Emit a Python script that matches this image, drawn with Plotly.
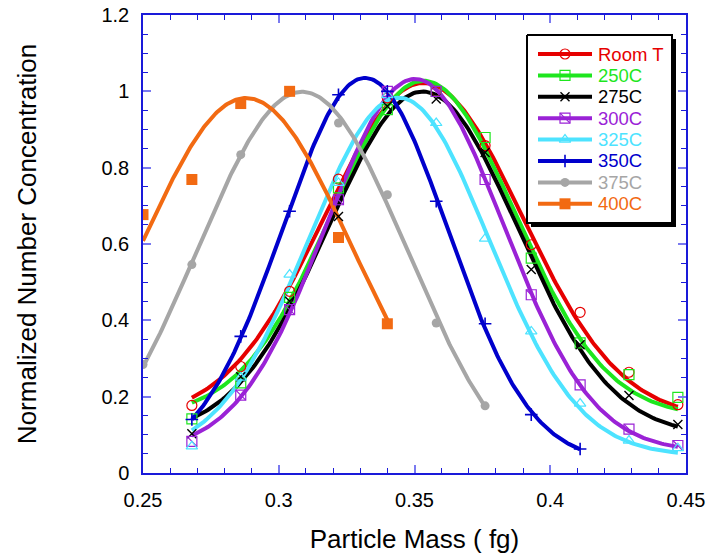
import numpy as np
import plotly.graph_objects as go

# Particle mass grid (fg)
mass = [0.250, 0.268, 0.286, 0.304, 0.322, 0.340, 0.358, 0.376, 0.393, 0.411, 0.429, 0.447]

series_names = ["Room T", "250C", "275C", "300C", "325C", "350C", "375C", "400C"]
series_colors = ["#e60000", "#1ee61e", "#000000", "#9a22d6", "#4de3ff", "#0000cc", "#a6a6a6", "#f26a12"]

# Normalized number concentration for each temperature
room_t = [0.177, 0.279, 0.476, 0.770, 0.983, 1.000, 0.858, 0.598, 0.421, 0.264, 0.179]
c250 = [0.142, 0.236, 0.460, 0.747, 0.952, 1.000, 0.879, 0.563, 0.341, 0.258, 0.198]
c275 = [0.103, 0.252, 0.450, 0.672, 0.961, 0.980, 0.840, 0.533, 0.336, 0.203, 0.127]
c300 = [0.083, 0.204, 0.428, 0.716, 1.000, 1.000, 0.769, 0.467, 0.231, 0.115, 0.072]
c325 = [0.070, 0.250, 0.520, 0.760, 0.990, 0.917, 0.614, 0.371, 0.182, 0.085, 0.065]
c350 = [0.140, 0.358, 0.686, 0.991, 1.000, 0.712, 0.391, 0.153, 0.063]
c375 = [0.284, 0.546, 0.834, 1.000, 0.917, 0.729, 0.393, 0.176]
c400 = [0.677, 0.769, 0.968, 1.000, 0.617, 0.391]

# first index into the mass grid for each series
series_start = [1, 1, 1, 1, 1, 1, 0, 0]
series_values = [room_t, c250, c275, c300, c325, c350, c375, c400]

x_ticks = [0.25, 0.3, 0.35, 0.4, 0.45]
x_tick_text = ["0.25", "0.3", "0.35", "0.4", "0.45"]
y_ticks = [0, 0.2, 0.4, 0.6, 0.8, 1.0, 1.2]
y_tick_text = ["0", "0.2", "0.4", "0.6", "0.8", "1", "1.2"]

FONT = "Liberation Sans, Arial, Helvetica, sans-serif"
AXIS_BLUE = "#1a1ad9"

# figure geometry (px)
W, H = 710, 560
ML, MR, MT, MB = 143, 24, 15, 87
PW, PH = W - ML - MR, H - MT - MB


def fx(px):
    return (px - ML) / PW


def fy(py):
    return (H - MB - py) / PH


def gaussian_fit(x, y):
    """Least-squares Gaussian + offset fit (grid over centre/width, linear in amplitude/offset)."""
    x = np.asarray(x, float)
    y = np.asarray(y, float)

    def solve(cs, ss):
        best = (np.inf, None)
        for c in cs:
            for s in ss:
                g = np.exp(-0.5 * ((x - c) / s) ** 2)
                A = np.column_stack([g, np.ones_like(g)])
                coef, *_ = np.linalg.lstsq(A, y, rcond=None)
                sse = float(((A @ coef - y) ** 2).sum())
                if sse < best[0]:
                    best = (sse, (coef[0], c, s, coef[1]))
        return best[1]

    a, c, s, d = solve(np.linspace(x.min(), x.max(), 80), np.linspace(0.01, 0.12, 80))
    a, c, s, d = solve(np.linspace(c - 0.004, c + 0.004, 41), np.linspace(max(s - 0.003, 0.005), s + 0.003, 41))
    return lambda t: a * np.exp(-0.5 * ((t - c) / s) ** 2) + d


marker_styles = [
    dict(symbol="circle-open", size=10, line=dict(width=1.2)),
    dict(symbol="square-open", size=10, line=dict(width=1.2)),
    dict(symbol="x-thin-open", size=9, line=dict(width=1.4)),
    dict(symbol="square-open", size=10, line=dict(width=1.2)),
    dict(symbol="triangle-up-open", size=10, line=dict(width=1.2)),
    dict(symbol="cross-thin-open", size=9, line=dict(width=1.6)),
    dict(symbol="circle", size=9, line=dict(width=0)),
    dict(symbol="square", size=11, line=dict(width=0)),
]


def styled_marker(ms, color):
    m = dict(ms)
    m["color"] = color
    m["line"] = dict(m["line"], color=color)
    return m


fig = go.Figure()

# fitted curves
for name, color, start, vals in zip(series_names, series_colors, series_start, series_values):
    xs = mass[start:start + len(vals)]
    f = gaussian_fit(xs, vals)
    xf = np.linspace(xs[0], xs[-1], 240)
    fig.add_trace(go.Scatter(x=xf, y=f(xf), mode="lines", line=dict(color=color, width=4),
                             showlegend=False, hoverinfo="skip", name=name))

# data markers
for name, color, start, vals, ms in zip(series_names, series_colors, series_start, series_values, marker_styles):
    xs = mass[start:start + len(vals)]
    fig.add_trace(go.Scatter(x=xs, y=vals, mode="markers", marker=styled_marker(ms, color),
                             showlegend=False, name=name))
    if name == "300C":
        fig.add_trace(go.Scatter(x=xs, y=vals, mode="markers", showlegend=False, hoverinfo="skip",
                                 marker=dict(symbol="line-nw-open", size=10, color=color,
                                             line=dict(width=1.2, color=color))))

# legend panel, drawn on an overlay axis pair spanning the plot area (0..1 both ways)
box_l, box_r, box_t, box_b = 527, 672, 35, 223
shadow = 4
row0, row_gap = 54, 21.4
line_l, line_r, text_x = 538, 592, 596


def rect_xy(l, r, t, b):
    return [fx(l), fx(r), fx(r), fx(l), fx(l)], [fy(t), fy(t), fy(b), fy(b), fy(t)]


sx, sy = rect_xy(box_l + shadow, box_r + shadow, box_t + shadow, box_b + shadow)
fig.add_trace(go.Scatter(x=sx, y=sy, xaxis="x2", yaxis="y2", mode="lines", fill="toself",
                         fillcolor="#000000", line=dict(color="#000000", width=0),
                         showlegend=False, hoverinfo="skip"))
bx, by = rect_xy(box_l, box_r, box_t, box_b)
fig.add_trace(go.Scatter(x=bx, y=by, xaxis="x2", yaxis="y2", mode="lines", fill="toself",
                         fillcolor="#ffffff", line=dict(color="#000000", width=2),
                         showlegend=False, hoverinfo="skip"))

annotations = []
for i, (name, color, ms) in enumerate(zip(series_names, series_colors, marker_styles)):
    ry = fy(row0 + i * row_gap)
    fig.add_trace(go.Scatter(x=[fx(line_l), fx(line_r)], y=[ry, ry], xaxis="x2", yaxis="y2",
                             mode="lines", line=dict(color=color, width=4),
                             showlegend=False, hoverinfo="skip"))
    fig.add_trace(go.Scatter(x=[fx((line_l + line_r) / 2)], y=[ry], xaxis="x2", yaxis="y2",
                             mode="markers", marker=styled_marker(ms, color),
                             showlegend=False, hoverinfo="skip"))
    if name == "300C":
        fig.add_trace(go.Scatter(x=[fx((line_l + line_r) / 2)], y=[ry], xaxis="x2", yaxis="y2",
                                 mode="markers", showlegend=False, hoverinfo="skip",
                                 marker=dict(symbol="line-nw-open", size=10, color=color,
                                             line=dict(width=1.2, color=color))))
    annotations.append(dict(text=name, xref="paper", yref="paper", x=fx(text_x), y=ry,
                            xanchor="left", yanchor="middle", showarrow=False,
                            font=dict(family=FONT, size=18.5, color=color)))

axis_common = dict(
    showline=True, linecolor=AXIS_BLUE, linewidth=1.5, mirror="allticks",
    ticks="inside", ticklen=8, tickwidth=1.5, tickcolor="#7a7af0",
    showgrid=False, zeroline=False, automargin=False,
    tickfont=dict(family=FONT, size=20, color="#000000"),
)

fig.update_layout(
    width=W, height=H,
    margin=dict(l=ML, r=MR, t=MT, b=MB),
    paper_bgcolor="white", plot_bgcolor="white",
    font=dict(family=FONT, color="#000000"),
    showlegend=False,
    xaxis=dict(axis_common, range=[0.25, 0.45], tickvals=x_ticks, ticktext=x_tick_text,
               ticklabelstandoff=8,
               minor=dict(ticks="inside", ticklen=5, tickwidth=1.2, tickcolor=AXIS_BLUE, dtick=0.01),
               title=dict(text="Particle Mass ( fg)", font=dict(family=FONT, size=26), standoff=20)),
    yaxis=dict(axis_common, range=[0, 1.2], tickvals=y_ticks, ticktext=y_tick_text,
               ticklabelstandoff=8,
               minor=dict(ticks="inside", ticklen=5, tickwidth=1.2, tickcolor=AXIS_BLUE, dtick=0.05),
               title=dict(text="Normalized Number Concentration", font=dict(family=FONT, size=26), standoff=57)),
    xaxis2=dict(overlaying="x", range=[0, 1], visible=False, fixedrange=True),
    yaxis2=dict(overlaying="y", range=[0, 1], visible=False, fixedrange=True),
    annotations=annotations,
)

fig.write_html("out.html")
